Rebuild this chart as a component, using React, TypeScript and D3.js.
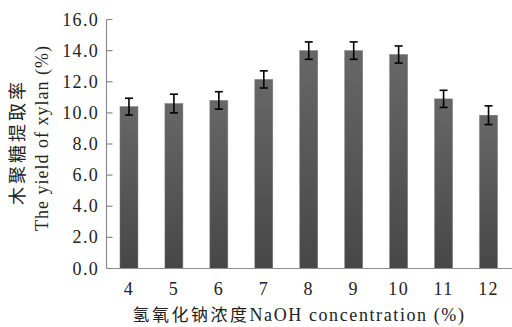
import React from "react";
import * as d3 from "d3";

const categories = ["4", "5", "6", "7", "8", "9", "10", "11", "12"];
const values = [10.4, 10.6, 10.8, 12.15, 14.0, 14.0, 13.75, 10.9, 9.85];
const errors = [0.54, 0.6, 0.56, 0.55, 0.56, 0.56, 0.55, 0.55, 0.6];
const yTicks = [0, 2, 4, 6, 8, 10, 12, 14, 16];

const W = 512;
const H = 327;
const left = 106.5;
const right = 511;
const top = 19.5;
const bottom = 268.5;

export default function App() {
  const x = d3.scaleBand<string>().domain(categories).range([left, right]).paddingInner(0.6).paddingOuter(0.3);
  const y = d3.scaleLinear().domain([0, 16]).range([bottom, top]);
  const serif = "'Liberation Serif', 'Times New Roman', serif";
  const cjk = "'Noto Sans CJK SC', sans-serif";
  return (
    <svg width={W} height={H} style={{ position: "absolute", left: 0, top: 0, background: "#fff" }}>
      <defs>
        <linearGradient id="barg" x1="0" y1="0" x2="0" y2="1">
          <stop offset="0%" stopColor="#676767" />
          <stop offset="100%" stopColor="#474747" />
        </linearGradient>
      </defs>
      {categories.map((c, i) => (
        <rect key={c} x={x(c)!} y={y(values[i])} width={x.bandwidth()} height={bottom - y(values[i])} fill="url(#barg)" stroke="#7a7a7a" strokeWidth={0.5} />
      ))}
      {categories.map((c, i) => {
        const cx = x(c)! + x.bandwidth() / 2;
        const y1 = y(values[i] + errors[i]);
        const y2 = y(values[i] - errors[i]);
        return (
          <g key={"e" + c} stroke="#000" strokeWidth={1.6}>
            <line x1={cx} x2={cx} y1={y1} y2={y2} />
            <line x1={cx - 4} x2={cx + 4} y1={y1} y2={y1} />
            <line x1={cx - 4} x2={cx + 4} y1={y2} y2={y2} />
          </g>
        );
      })}
      <line x1={left} x2={left} y1={top} y2={bottom} stroke="#8c8c8c" strokeWidth={1.2} />
      <line x1={left} x2={right + 1} y1={bottom} y2={bottom} stroke="#8c8c8c" strokeWidth={1.2} />
      {yTicks.map((t) => (
        <g key={t}>
          <line x1={left} x2={left + 6} y1={y(t)} y2={y(t)} stroke="#8c8c8c" strokeWidth={1.2} />
          <text x={99} y={y(t) + 6} textAnchor="end" fontFamily={serif} fontSize={18} letterSpacing={1.3} fill="#222">
            {t.toFixed(1)}
          </text>
        </g>
      ))}
      {categories.map((c) => (
        <text key={"t" + c} x={x(c)! + x.bandwidth() / 2} y={295} textAnchor="middle" fontFamily={serif} fontSize={18} letterSpacing={1.3} fill="#222">
          {c}
        </text>
      ))}
      <text x={299} y={321} textAnchor="middle" fontFamily={serif} fontSize={18} letterSpacing={1.6} fill="#222">
        <tspan fontFamily={cjk} fontSize={17} letterSpacing={2.5}>氢氧化钠浓度</tspan>
        <tspan>NaOH concentration (%)</tspan>
      </text>
      <text transform={`translate(24,142) rotate(-90)`} textAnchor="middle" fontFamily={cjk} fontSize={18} letterSpacing={3} fill="#222">
        木聚糖提取率
      </text>
      <text transform={`translate(48,138) rotate(-90)`} textAnchor="middle" fontFamily={serif} fontSize={18} letterSpacing={1} fill="#222">
        The yield of xylan (%)
      </text>
    </svg>
  );
}
